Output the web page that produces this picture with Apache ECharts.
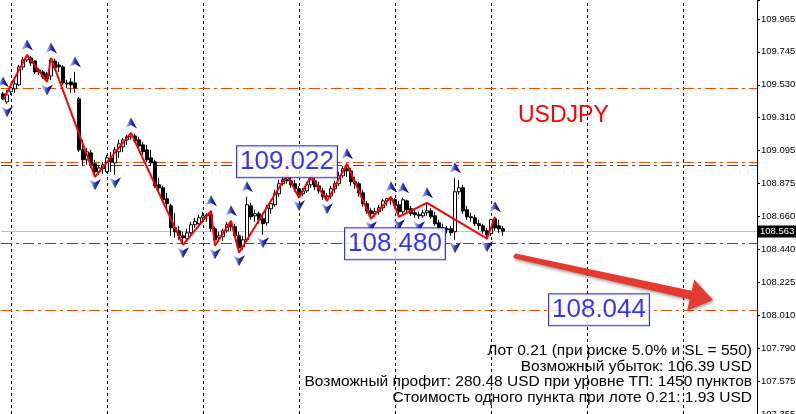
<!DOCTYPE html>
<html><head><meta charset="utf-8">
<script src="https://cdn.jsdelivr.net/npm/echarts@6/dist/echarts.min.js"></script>
<style>html,body{margin:0;padding:0;background:#fff;}#c{width:796px;height:414px;}</style>
</head><body><div id="c"></div>
<script>
// ---- data (USDJPY H1) ----
const opens = [109.470,109.417,109.483,109.503,109.529,109.648,109.694,109.707,109.687,109.628,
109.615,109.602,109.588,109.687,109.661,109.648,109.542,109.549,109.542,109.437,
109.100,109.034,109.080,109.008,108.955,108.975,108.955,109.047,109.014,109.087,
109.120,109.166,109.186,109.192,109.166,109.133,109.100,109.047,109.021,108.869,
108.849,108.777,108.730,108.585,108.565,108.532,108.513,108.552,108.605,108.612,
108.651,108.664,108.671,108.579,108.519,108.526,108.565,108.605,108.592,108.532,
108.460,108.506,108.730,108.664,108.678,108.645,108.618,108.711,108.737,108.810,
108.876,108.902,108.895,108.876,108.843,108.810,108.829,108.869,108.895,108.862,
108.829,108.790,108.796,108.843,108.876,108.928,108.975,108.961,108.889,108.876,
108.816,108.744,108.697,108.678,108.691,108.717,108.763,108.777,108.770,108.737,
108.691,108.763,108.711,108.684,108.671,108.664,108.684,108.697,108.664,108.618,
108.585,108.579,108.579,108.559,108.823,108.849,108.704,108.658,108.651,108.612,
108.598,108.565,108.546,108.645,108.598,108.579];
const closes = [109.437,109.463,109.509,109.536,109.648,109.694,109.714,109.674,109.615,109.615,
109.582,109.569,109.694,109.641,109.648,109.542,109.536,109.529,109.509,109.100,
109.034,109.087,109.001,108.955,108.981,109.001,109.047,109.021,109.100,109.140,
109.166,109.186,109.199,109.159,109.126,109.087,109.034,109.014,108.862,108.849,
108.770,108.744,108.585,108.559,108.532,108.519,108.552,108.605,108.625,108.651,
108.664,108.671,108.579,108.506,108.532,108.565,108.605,108.592,108.532,108.453,
108.506,108.737,108.658,108.678,108.638,108.612,108.717,108.744,108.810,108.876,
108.902,108.895,108.869,108.843,108.803,108.829,108.869,108.902,108.856,108.829,
108.790,108.796,108.843,108.876,108.928,108.975,108.961,108.889,108.876,108.816,
108.744,108.697,108.678,108.691,108.717,108.763,108.777,108.770,108.730,108.691,
108.770,108.704,108.678,108.671,108.664,108.684,108.697,108.658,108.612,108.585,
108.579,108.572,108.552,108.823,108.849,108.697,108.658,108.651,108.612,108.598,
108.565,108.539,108.638,108.585,108.579,108.563];
const highs = [109.483,109.496,109.536,109.562,109.661,109.714,109.727,109.720,109.694,109.641,
109.628,109.615,109.707,109.701,109.681,109.661,109.562,109.575,109.615,109.450,
109.166,109.113,109.100,109.034,109.001,109.021,109.067,109.087,109.120,109.166,
109.179,109.199,109.212,109.206,109.186,109.153,109.133,109.100,109.034,108.915,
108.862,108.816,108.744,108.684,108.598,108.559,108.579,108.625,108.651,108.671,
108.691,108.684,108.697,108.592,108.559,108.579,108.625,108.631,108.612,108.559,
108.532,108.790,108.750,108.704,108.691,108.664,108.737,108.770,108.836,108.902,
108.928,108.935,108.922,108.902,108.862,108.849,108.889,108.928,108.915,108.889,
108.849,108.816,108.862,108.895,108.955,108.994,109.008,108.981,108.922,108.889,
108.836,108.763,108.717,108.717,108.737,108.777,108.783,108.790,108.783,108.763,
108.783,108.770,108.730,108.704,108.691,108.704,108.750,108.717,108.691,108.638,
108.612,108.598,108.598,108.915,108.902,108.869,108.730,108.684,108.671,108.638,
108.612,108.585,108.645,108.658,108.638,108.598];
const lows = [109.430,109.404,109.463,109.476,109.522,109.628,109.681,109.654,109.602,109.595,
109.569,109.549,109.562,109.628,109.615,109.529,109.509,109.476,109.476,109.087,
108.994,109.001,108.981,108.922,108.935,108.942,108.948,108.955,108.935,109.047,
109.087,109.133,109.166,109.146,109.107,109.067,109.021,108.994,108.849,108.816,
108.750,108.717,108.532,108.519,108.506,108.473,108.493,108.532,108.585,108.592,
108.631,108.625,108.559,108.466,108.493,108.499,108.552,108.565,108.519,108.420,
108.440,108.493,108.638,108.625,108.612,108.539,108.598,108.678,108.724,108.790,
108.862,108.876,108.849,108.823,108.783,108.796,108.816,108.849,108.836,108.810,
108.770,108.763,108.777,108.816,108.862,108.915,108.922,108.862,108.843,108.790,
108.724,108.678,108.645,108.658,108.671,108.697,108.730,108.737,108.711,108.658,
108.671,108.684,108.664,108.651,108.645,108.651,108.664,108.645,108.598,108.565,
108.552,108.546,108.532,108.506,108.803,108.678,108.638,108.625,108.598,108.572,
108.546,108.513,108.532,108.565,108.552,108.532];

const zigzagBars   = [0,6,11,12,23,32,45,52,53,57,59,71,74,77,81,86,92,97,99,106,121,123];
const zigzagPrices = [109.430,109.727,109.549,109.707,108.922,109.212,108.473,108.697,108.466,108.631,108.420,
                      108.935,108.783,108.928,108.763,109.008,108.645,108.790,108.658,108.750,108.513,108.658];
const upFractalBars   = [0,6,12,18,32,52,57,61,86,97,100,106,113,123];
const downFractalBars = [1,11,23,28,45,53,59,65,74,81,92,99,104,113,121];

const orangeLevels = [109.509, 109.022, 108.044];
const greenLevels  = [108.997, 108.480];
const currentPrice = 108.563;
const separatorBars = [2,26,50,74,98,122,146,170];
const boxBars   = [71, 98, 149];
const boxPrices = [109.022, 108.480, 108.044];
const yTickLabels = ['107.355','107.575','107.790','108.010','108.225','108.440','108.660',
                     '108.875','109.095','109.310','109.530','109.745','109.965'];
const yMin = 107.355, yMax = 110.09, yStep = 0.2175;
const totalSlots = 189;
const symbolName = 'USDJPY';
const infoLines = [
  'Лот 0.21 (при риске 5.0% и SL = 550)',
  'Возможный убыток: 106.39 USD',
  'Возможный профит: 280.48 USD при уровне ТП: 1450 пунктов',
  'Стоимость одного пункта при лоте 0.21: 1.93 USD'
];

// ---- build ----
const categories = [];
for (let i = 0; i < totalSlots; i++) categories.push(String(i));
const candleData = opens.map((o, i) => [o, closes[i], lows[i], highs[i]]);
const zigzagData = zigzagBars.map((b, i) => [b, zigzagPrices[i]]);
const upData = upFractalBars.map(b => [b, highs[b]]);
const downData = downFractalBars.map(b => [b, lows[b]]);
const boxData = boxBars.map((b, i) => [b, boxPrices[i]]);

const dashDot = [11, 4, 3, 4];
const markLines = [];
separatorBars.forEach(b => markLines.push({xAxis: b, lineStyle: {color: '#000', type: [3, 3], width: 1}}));
orangeLevels.forEach(p => markLines.push({yAxis: p, lineStyle: {color: '#ff4500', type: dashDot, width: 1}}));
greenLevels.forEach(p => markLines.push({yAxis: p, lineStyle: {color: '#008000', type: dashDot, width: 1}}));
markLines.push({yAxis: currentPrice, lineStyle: {color: '#c0c0c0', type: 'solid', width: 1},
  label: {show: true, position: 'end', distance: 1, formatter: currentPrice.toFixed(3),
          color: '#fff', backgroundColor: '#000', fontSize: 9.5, fontFamily: 'Liberation Sans, Arial',
          padding: [1, 2, 1, 2]}});

const arrowGrad = {type: 'linear', x: 0, y: 0, x2: 1, y2: 0, colorStops: [
  {offset: 0, color: '#e4e8ff'}, {offset: 0.3, color: '#8090e8'}, {offset: 0.55, color: '#2a2ab0'}, {offset: 1, color: '#000070'}]};

const chart = echarts.init(document.getElementById('c'), null, {renderer: 'canvas'});
const textGraphics = infoLines.map((t, i) => ({
  type: 'text', x: 752, y: 351 + i * 15.5, z: 20,
  style: {text: t, align: 'right', textAlign: 'right', verticalAlign: 'middle', textVerticalAlign: 'middle',
          font: '15.5px "Liberation Sans", Arial, sans-serif', fill: '#000'}
}));

chart.setOption({
  animation: false,
  backgroundColor: '#ffffff',
  grid: {left: 1, right: 39, top: 0, bottom: 0, containLabel: false, outerBoundsMode: 'none'},
  xAxis: {type: 'category', data: categories, boundaryGap: true,
          axisLine: {show: false}, axisTick: {show: false}, axisLabel: {show: false}, splitLine: {show: false}},
  yAxis: {type: 'value', position: 'right', min: yMin, max: yMax, interval: yStep, scale: true,
          axisLine: {show: true, lineStyle: {color: '#000', width: 1}},
          axisTick: {show: true, length: 3, lineStyle: {color: '#000'}},
          splitLine: {show: false},
          axisLabel: {color: '#000', fontSize: 9.5, fontFamily: 'Liberation Sans, Arial', margin: 4,
            formatter: v => {
              const k = Math.round((v - yMin) / yStep);
              return (k >= 0 && k < yTickLabels.length && Math.abs(v - (yMin + k * yStep)) < 1e-4) ? yTickLabels[k] : '';
            }}},
  series: [
    {type: 'candlestick', data: candleData, barWidth: 3, z: 3,
     itemStyle: {color: '#ffffff', color0: '#000000', borderColor: '#000000', borderColor0: '#000000', borderWidth: 1},
     emphasis: {disabled: true}, silent: true,
     markLine: {silent: true, symbol: ['none', 'none'], z: 1, label: {show: false}, data: markLines, animation: false}},
    {type: 'line', data: zigzagData, symbol: 'none', z: 4, silent: true,
     lineStyle: {color: '#ff0000', width: 2}},
    {type: 'scatter', data: upData, z: 5, silent: true,
     symbol: 'path://M5,0 L10,10 L5,7 L0,10 Z', symbolSize: [12, 11], symbolOffset: [0, -10],
     itemStyle: {color: arrowGrad, opacity: 1}},
    {type: 'scatter', data: downData, z: 5, silent: true,
     symbol: 'path://M0,0 L5,3 L10,0 L5,10 Z', symbolSize: [12, 11], symbolOffset: [0, 8],
     itemStyle: {color: arrowGrad, opacity: 1}},
    {type: 'scatter', data: boxData, z: 10, silent: true, symbol: 'rect', symbolSize: 1,
     itemStyle: {color: 'rgba(0,0,0,0)'},
     label: {show: true, position: 'inside', formatter: p => p.value[1].toFixed(3),
             fontSize: 26, fontFamily: 'Liberation Sans, Arial', color: '#0000ff',
             backgroundColor: '#ffffff', borderColor: '#0000ff', borderWidth: 1,
             width: 96, height: 31, lineHeight: 31, align: 'center', verticalAlign: 'middle', padding: [0, 2]}}
  ],
  graphic: [
    {type: 'polygon', z: 15,
     shape: {points: [[515.5, 253.6], [691.7, 290.8], [694.2, 279.4], [713, 300], [687.2, 310.6], [689.7, 299.2], [514.5, 258.4], [513.3, 256]]},
     style: {fill: '#e63a2e', shadowBlur: 3, shadowColor: 'rgba(0,0,0,0.35)', shadowOffsetX: 1, shadowOffsetY: 2}},
    {type: 'text', x: 518, y: 116, z: 15,
     style: {text: symbolName, font: '23px "Liberation Sans", Arial, sans-serif', fill: '#ff0000',
             verticalAlign: 'middle', textVerticalAlign: 'middle'}}
  ].concat(textGraphics)
});
</script>
</body></html>
